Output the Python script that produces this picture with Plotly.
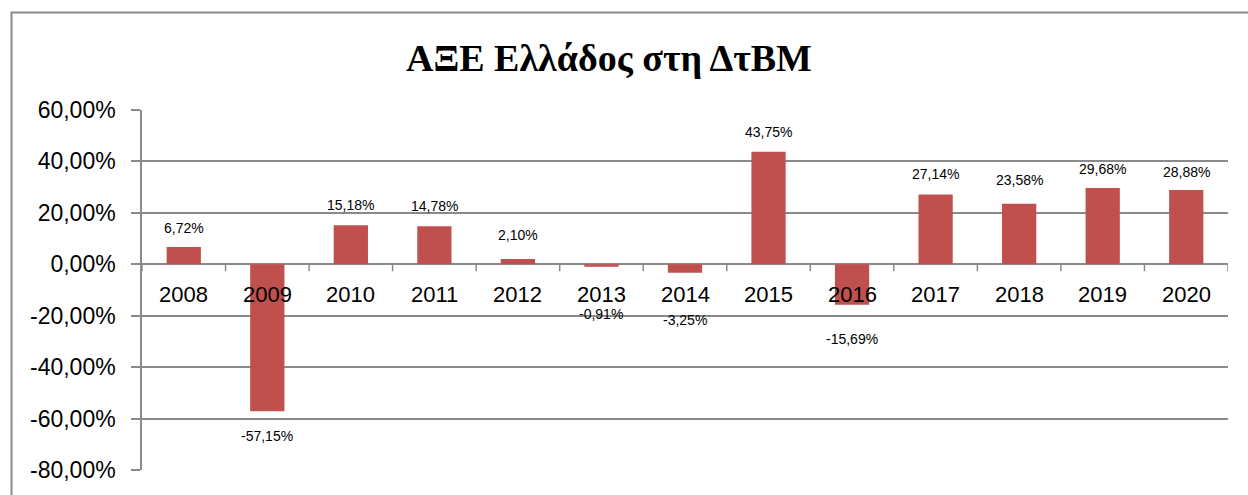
import plotly.graph_objects as go

years = ["2008", "2009", "2010", "2011", "2012", "2013", "2014",
         "2015", "2016", "2017", "2018", "2019", "2020"]
values = [6.72, -57.15, 15.18, 14.78, 2.10, -0.91, -3.25,
          43.75, -15.69, 27.14, 23.58, 29.68, 28.88]
y_tick_vals = [-80, -60, -40, -20, 0, 20, 40, 60]
y_tick_text = ["-80,00%", "-60,00%", "-40,00%", "-20,00%", "0,00%",
               "20,00%", "40,00%", "60,00%"]
title_text = "ΑΞΕ Ελλάδος στη ΔτΒΜ"

# label pixel offsets (style, not data)
label_shift = [19, -25, 20, 20, 24, -47, -47, 20, -34, 21, 24, 19, 18]

BAR = "#C0504D"
GRID = "#8a8a8a"
Y_MIN, Y_MAX = -80, 60
W, H = 1248, 495
ML, MR, MT, MB = 142, 20, 110, 25
PLOT_H = H - MT - MB
PX = (Y_MAX - Y_MIN) / PLOT_H  # data units per pixel

fig = go.Figure()
fig.add_trace(go.Bar(
    x=years, y=values, marker=dict(color=BAR, line=dict(width=0)),
    hoverinfo="x+y",
))

annotations = []
# data labels (x given as category index so "2008" is not read as a number)
for i, (v, s) in enumerate(zip(values, label_shift)):
    annotations.append(dict(
        x=i, y=v, xref="x", yref="y", yshift=s,
        text=f"{v:.2f}".replace(".", ",") + "%",
        showarrow=False, yanchor="middle", xanchor="center",
        font=dict(family="Liberation Sans, Arial", size=14, color="#000"),
    ))
# category labels sitting under the zero line
for i, yr in enumerate(years):
    annotations.append(dict(
        x=i, y=0, xref="x", yref="y", yshift=-30,
        text=yr, showarrow=False, yanchor="middle", xanchor="center",
        font=dict(family="Liberation Sans, Arial", size=22, color="#000"),
    ))

shapes = [dict(type="rect", xref="paper", yref="paper",
               x0=(11.5 - ML) / (W - ML - MR), x1=(1260 - ML) / (W - ML - MR),
               y0=(H - MB - 505) / PLOT_H, y1=(H - MB - 12.5) / PLOT_H,
               line=dict(color="#8c8c8c", width=2), fillcolor="rgba(0,0,0,0)",
               layer="below")]
# category boundary tick marks on the zero line (7 px long)
for i in range(len(years) + 1):
    shapes.append(dict(type="line", xref="x", yref="y",
                       x0=i - 0.5, x1=i - 0.5, y0=0, y1=-7 * PX,
                       line=dict(color=GRID, width=1.5), layer="above"))

fig.update_layout(
    width=W, height=H,
    margin=dict(l=ML, r=MR, t=MT, b=MB),
    paper_bgcolor="white", plot_bgcolor="white",
    bargap=0.59,
    showlegend=False,
    title=dict(text=f"<b>{title_text}</b>", x=609 / W, xanchor="center",
               y=1 - 58 / H, yanchor="middle",
               font=dict(family="Liberation Serif, DejaVu Serif, serif", size=38, color="#000")),
    xaxis=dict(
        type="category", range=[-0.5, len(years) - 0.5],
        showticklabels=False, ticks="", showline=False,
        showgrid=False, zeroline=False,
    ),
    yaxis=dict(
        range=[Y_MIN, Y_MAX], tickvals=y_tick_vals, ticktext=y_tick_text,
        showline=True, linecolor=GRID, linewidth=1.5,
        ticks="outside", ticklen=9, tickwidth=1.5, tickcolor=GRID,
        ticklabelstandoff=11,
        showgrid=True, gridcolor=GRID, gridwidth=1.5,
        zeroline=False,
        tickfont=dict(family="Liberation Sans, Arial", size=23, color="#000"),
    ),
    annotations=annotations,
    shapes=shapes,
)

fig.write_html("out.html", config={"displayModeBar": False},
               post_script="document.body.style.margin='0px';")
